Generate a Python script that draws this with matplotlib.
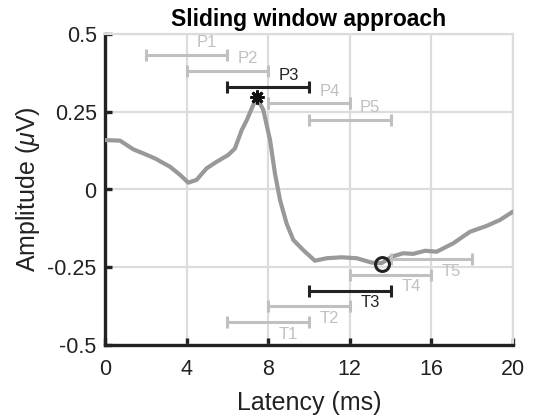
import matplotlib
matplotlib.use("Agg")
import matplotlib.pyplot as plt
import numpy as np

plt.rcParams['font.family'] = ['Liberation Sans', 'DejaVu Sans']
plt.rcParams['mathtext.fontset'] = 'custom'
plt.rcParams['mathtext.rm'] = 'Liberation Sans'
plt.rcParams['mathtext.it'] = 'Liberation Sans:italic'

# ERP waveform (latency ms, amplitude uV)
t = [0, 0.74, 1.39, 1.88, 2.45, 3.19, 3.68, 4.08, 4.49, 4.98, 5.47, 6.04, 6.37, 6.7,
     6.95, 7.2, 7.43, 7.76, 8.09, 8.33, 8.58, 8.9, 9.23, 9.72, 10.29, 10.87, 11.6,
     12.34, 13.07, 13.56, 14.05, 14.62, 15.11, 15.69, 16.26, 17.07, 17.89, 18.71,
     19.36, 20.0]
amp = [0.159, 0.157, 0.129, 0.116, 0.1, 0.073, 0.047, 0.022, 0.031, 0.068, 0.089,
       0.111, 0.132, 0.191, 0.223, 0.262, 0.296, 0.256, 0.159, 0.052, -0.034, -0.109,
       -0.162, -0.195, -0.229, -0.221, -0.218, -0.221, -0.235, -0.237, -0.216, -0.205,
       -0.207, -0.197, -0.2, -0.173, -0.136, -0.117, -0.098, -0.071]

# Sliding windows for peak (P) and trough (T)
p_labels = ['P1', 'P2', 'P3', 'P4', 'P5']
p_start = [2, 4, 6, 8, 10]
p_end = [6, 8, 10, 12, 14]
p_y = [0.433, 0.381, 0.329, 0.277, 0.225]

t_labels = ['T1', 'T2', 'T3', 'T4', 'T5']
t_start = [6, 8, 10, 12, 14]
t_end = [10, 12, 14, 16, 18]
t_y = [-0.427, -0.375, -0.325, -0.274, -0.224]

selected = 2  # P3 / T3 highlighted

peak = (7.43, 0.296)
trough = (13.56, -0.24)

fig = plt.figure(figsize=(5.33, 4.15), dpi=100)
ax = fig.add_axes([105/533, 70/415, 408/533, 311/415])

light = '#c0c0c0'
dark = '#222222'

ax.plot(t, amp, color='#999999', lw=3, zorder=3, solid_capstyle='round',
        solid_joinstyle='round')

for i in range(5):
    c = dark if i == selected else light
    z = 5 if i == selected else 4
    xc = (p_start[i] + p_end[i]) / 2
    ax.errorbar(xc, p_y[i], xerr=(p_end[i] - p_start[i]) / 2, fmt='none',
                ecolor=c, elinewidth=2.2, capsize=4, capthick=2.2, zorder=z)
    ax.text(p_start[i] + 3, p_y[i] + 0.015, p_labels[i], color=c, fontsize=12,
            ha='center', va='bottom', zorder=z)
    xc = (t_start[i] + t_end[i]) / 2
    ax.errorbar(xc, t_y[i], xerr=(t_end[i] - t_start[i]) / 2, fmt='none',
                ecolor=c, elinewidth=2.2, capsize=4, capthick=2.2, zorder=z)
    ax.text(t_start[i] + 3, t_y[i] - 0.015, t_labels[i], color=c, fontsize=12,
            ha='center', va='top', zorder=z)

ax.plot(*peak, marker=(8, 2, 0), color='#111111', ms=10, zorder=6, markeredgewidth=2)
ax.plot(*trough, marker='o', mfc='none', mec='#222222', ms=10, mew=2.2, zorder=6)

ax.set_xlim(0, 20)
ax.set_ylim(-0.5, 0.5)
ax.set_xticks([0, 4, 8, 12, 16, 20])
ax.set_yticks([-0.5, -0.25, 0, 0.25, 0.5])
ax.set_yticklabels(['-0.5', '-0.25', '0', '0.25', '0.5'])
ax.grid(True, color='#dcdcdc', lw=1.6)
ax.set_axisbelow(True)
for s in ['left', 'bottom']:
    ax.spines[s].set_color('#222222')
    ax.spines[s].set_linewidth(2.4)
for s in ['top', 'right']:
    ax.spines[s].set_color('#dcdcdc')
    ax.spines[s].set_linewidth(1.6)
ax.tick_params(direction='in', length=5, width=2.4, colors='#222222', labelsize=15.5,
               top=False, right=False)
ax.tick_params(axis='x', pad=10)
ax.tick_params(axis='y', pad=6)
ax.set_xlabel('Latency (ms)', fontsize=18, color='#222222', labelpad=8)
ax.set_ylabel(r'Amplitude ($\mu$V)', fontsize=18, color='#222222', labelpad=4)
ax.set_title('Sliding window approach', fontsize=16.5, fontweight='bold', pad=6)

fig.savefig('out.png', dpi=100)
